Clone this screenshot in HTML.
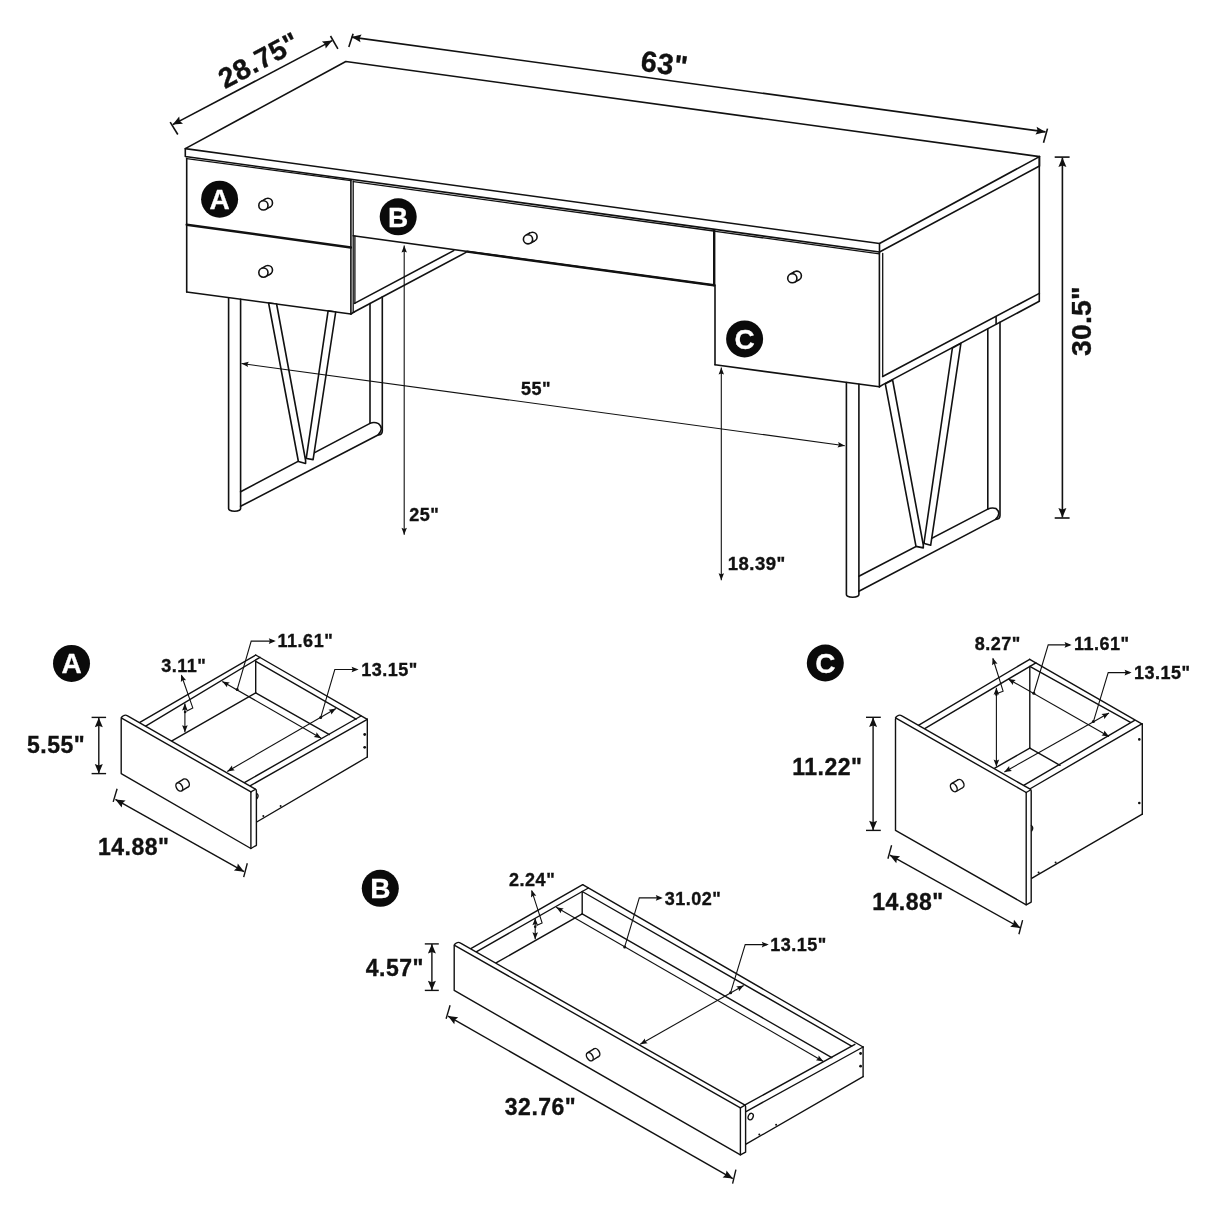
<!DOCTYPE html>
<html><head><meta charset="utf-8"><title>Desk dimensions</title>
<style>
html,body{margin:0;padding:0;background:#fff;}
body{width:1214px;height:1214px;overflow:hidden;}
svg{display:block;will-change:transform;opacity:0.999;}
text{font-family:"Liberation Sans",sans-serif;font-weight:bold;letter-spacing:0.5px;stroke:#111;stroke-width:0.35px;paint-order:stroke;}
.o{stroke:#111;stroke-width:1.6;stroke-linecap:round;stroke-linejoin:round;}
.b{stroke:#111;stroke-width:2.4;stroke-linecap:round;stroke-linejoin:round;}
.p{stroke:#111;stroke-width:1.4;stroke-linecap:round;stroke-linejoin:round;}
.e{stroke:#111;stroke-width:1.4;stroke-linecap:butt;}
.m{stroke:#111;stroke-width:1.3;stroke-linecap:round;stroke-linejoin:round;}
.d{stroke:#111;stroke-width:1.6;stroke-linecap:butt;}
.t{stroke:#111;stroke-width:1.1;stroke-linecap:butt;}
.k{stroke:#111;stroke-width:1.6;}
.k2{stroke:#111;stroke-width:1.45;}
.n{stroke:none;}
</style></head><body>
<svg width="1214" height="1214" viewBox="0 0 1214 1214">
<rect width="1214" height="1214" fill="#fff"/>
<polygon class="o" fill="none" points="185.3,148.6 345.8,61.5 1039.5,156.6 879.5,243.5"/>
<polyline class="o" fill="none" points="185.3,148.6 185.3,156.5 879.5,252.0 1039.5,166.0 1039.5,156.6"/>
<line class="o" x1="879.5" y1="243.5" x2="879.5" y2="252.0"/>
<line class="m" x1="186.7" y1="158.6" x2="350.9" y2="180.6"/>
<line class="m" x1="353.4" y1="181.6" x2="713.7" y2="231.0"/>
<line class="m" x1="715.5" y1="231.3" x2="879.5" y2="253.9"/>
<line class="o" x1="186.7" y1="158.4" x2="186.7" y2="292.0"/>
<line class="b" x1="186.7" y1="224.7" x2="350.9" y2="247.5"/>
<line class="o" x1="186.7" y1="292.0" x2="350.9" y2="314.0"/>
<line class="o" x1="350.9" y1="180.2" x2="350.9" y2="314.0"/>
<line class="m" x1="353.2" y1="181.0" x2="353.2" y2="312.3"/>
<line class="m" x1="354.9" y1="236.0" x2="354.9" y2="303.4"/>
<line class="o" x1="354.5" y1="303.4" x2="453.7" y2="250.6"/>
<line class="o" x1="354.5" y1="311.8" x2="466.0" y2="252.4"/>
<line class="o" x1="350.9" y1="314.0" x2="354.5" y2="311.8"/>
<line class="o" x1="353.2" y1="235.8" x2="713.9" y2="285.3"/>
<line class="b" x1="467.2" y1="251.6" x2="713.9" y2="285.3"/>
<line class="b" x1="714.2" y1="230.3" x2="714.2" y2="285.3"/>
<line class="o" x1="715.0" y1="285.0" x2="715.0" y2="364.8"/>
<line class="o" x1="715.0" y1="364.8" x2="879.4" y2="386.8"/>
<line class="o" x1="879.4" y1="252.0" x2="879.4" y2="386.8"/>
<line class="m" x1="882.7" y1="253.5" x2="882.7" y2="376.5"/>
<line class="o" x1="1039.3" y1="156.6" x2="1039.3" y2="301.3"/>
<line class="o" x1="882.7" y1="376.5" x2="1039.3" y2="293.4"/>
<polyline class="o" fill="none" points="879.4,386.8 883.4,384.4 1039.3,301.3"/>
<line class="o" x1="996.1" y1="316.8" x2="996.1" y2="324.2"/>
<path class="o" fill="none" d="M228.6,297.8 L228.6,508.6 A6,2.6 0 0 0 240.6,508.6 L240.6,299.4"/>
<line class="o" x1="370.0" y1="303.6" x2="370.0" y2="423.2"/>
<path class="o" fill="none" d="M382.3,296.9 L382.3,431.0 Q382.3,434.8 378.0,435.0"/>
<line class="o" x1="240.6" y1="491.8" x2="370.0" y2="423.4"/>
<path class="o" fill="none" d="M240.6,506.3 L378.0,435.0 Q384.5,428.5 378.5,423.6 Q374.0,421.5 370.0,423.4"/>
<polygon class="o" fill="#fff" points="268.6,303.0 298.4,461.5 305.6,463.4 305.6,460.5 276.6,304.0"/>
<polygon class="o" fill="#fff" points="328.1,310.9 306.5,456.7 306.5,458.5 313.1,459.6 335.7,312.0"/>
<path class="o" fill="none" d="M846.4,382.5 L846.4,594.6 A6.2,2.6 0 0 0 858.9,594.6 L858.9,384.2"/>
<line class="o" x1="987.8" y1="329.0" x2="987.8" y2="508.8"/>
<path class="o" fill="none" d="M1000.0,322.3 L1000.0,515.5 Q1000.0,519.2 995.6,519.4"/>
<line class="o" x1="858.9" y1="576.3" x2="987.8" y2="509.1"/>
<path class="o" fill="none" d="M858.9,591.2 L995.6,519.4 Q1001.8,513.0 996.0,508.6 Q992.0,507.2 987.8,509.1"/>
<polygon class="o" fill="#fff" points="885.3,383.8 916.0,546.4 923.3,547.9 923.3,545.0 892.6,380.0"/>
<polygon class="o" fill="#fff" points="952.4,348.0 924.2,541.5 924.2,543.5 930.7,545.2 960.9,343.4"/>
<circle class="k" cx="267.9" cy="202.9" r="4.6" fill="#fff"/>
<polygon class="n" fill="#fff" points="265.6,209.4 270.1,206.9 265.7,198.9 261.2,201.4"/>
<line class="k" x1="265.6" y1="209.4" x2="270.1" y2="206.9"/>
<line class="k" x1="261.2" y1="201.4" x2="265.7" y2="198.9"/>
<circle class="k" cx="263.4" cy="205.4" r="4.6" fill="#fff"/>
<circle class="k" cx="267.9" cy="270.1" r="4.6" fill="#fff"/>
<polygon class="n" fill="#fff" points="265.6,276.6 270.1,274.1 265.7,266.1 261.2,268.6"/>
<line class="k" x1="265.6" y1="276.6" x2="270.1" y2="274.1"/>
<line class="k" x1="261.2" y1="268.6" x2="265.7" y2="266.1"/>
<circle class="k" cx="263.4" cy="272.6" r="4.6" fill="#fff"/>
<circle class="k" cx="532.5" cy="236.8" r="4.6" fill="#fff"/>
<polygon class="n" fill="#fff" points="530.2,243.3 534.7,240.8 530.3,232.8 525.8,235.3"/>
<line class="k" x1="530.2" y1="243.3" x2="534.7" y2="240.8"/>
<line class="k" x1="525.8" y1="235.3" x2="530.3" y2="232.8"/>
<circle class="k" cx="528.0" cy="239.3" r="4.6" fill="#fff"/>
<circle class="k" cx="796.8" cy="275.7" r="4.6" fill="#fff"/>
<polygon class="n" fill="#fff" points="794.5,282.2 799.0,279.7 794.6,271.7 790.1,274.2"/>
<line class="k" x1="794.5" y1="282.2" x2="799.0" y2="279.7"/>
<line class="k" x1="790.1" y1="274.2" x2="794.6" y2="271.7"/>
<circle class="k" cx="792.3" cy="278.2" r="4.6" fill="#fff"/>
<circle cx="219.6" cy="199.2" r="18.5" fill="#0a0a0a"/>
<text x="219.6" y="209.2" font-size="28" text-anchor="middle" fill="#fff" style="letter-spacing:0;stroke:#fff;stroke-width:0.3px">A</text>
<circle cx="398.2" cy="216.8" r="18.5" fill="#0a0a0a"/>
<text x="398.2" y="226.8" font-size="28" text-anchor="middle" fill="#fff" style="letter-spacing:0;stroke:#fff;stroke-width:0.3px">B</text>
<circle cx="744.6" cy="338.9" r="18.5" fill="#0a0a0a"/>
<text x="744.6" y="348.9" font-size="28" text-anchor="middle" fill="#fff" style="letter-spacing:0;stroke:#fff;stroke-width:0.3px">C</text>
<line class="d" x1="172.7" y1="124.6" x2="332.2" y2="40.6"/>
<polygon fill="#111" points="332.2,40.6 325.7,48.6 325.1,44.3 321.9,41.5"/>
<polygon fill="#111" points="172.7,124.6 179.2,116.6 179.8,120.9 183.0,123.7"/>
<line class="d" x1="170.2" y1="122.1" x2="177.8" y2="134.5"/>
<line class="d" x1="330.5" y1="36.0" x2="337.9" y2="48.8"/>
<line class="d" x1="351.6" y1="37.1" x2="1045.5" y2="131.9"/>
<polygon fill="#111" points="1045.5,131.9 1035.5,134.6 1037.6,130.8 1036.6,126.7"/>
<polygon fill="#111" points="351.6,37.1 361.6,34.4 359.5,38.2 360.5,42.3"/>
<line class="d" x1="353.1" y1="33.8" x2="348.8" y2="47.0"/>
<line class="d" x1="1047.5" y1="128.6" x2="1043.5" y2="142.7"/>
<line class="d" x1="1062.4" y1="157.6" x2="1062.4" y2="517.6"/>
<polygon fill="#111" points="1062.4,517.6 1058.4,508.1 1062.4,509.6 1066.4,508.1"/>
<polygon fill="#111" points="1062.4,157.6 1066.4,167.1 1062.4,165.6 1058.4,167.1"/>
<line class="d" x1="1054.7" y1="157.1" x2="1069.6" y2="157.1"/>
<line class="d" x1="1054.7" y1="518.0" x2="1069.6" y2="518.0"/>
<line class="t" x1="241.5" y1="363.5" x2="844.8" y2="445.7"/>
<polygon fill="#111" points="844.8,445.7 837.5,447.4 839.0,444.9 838.2,442.1"/>
<polygon fill="#111" points="241.5,363.5 248.8,361.8 247.3,364.3 248.1,367.1"/>
<line class="t" x1="404.2" y1="245.5" x2="404.2" y2="534.8"/>
<polygon fill="#111" points="404.2,534.8 401.5,527.8 404.2,528.9 406.9,527.8"/>
<polygon fill="#111" points="404.2,245.5 406.9,252.5 404.2,251.4 401.5,252.5"/>
<line class="t" x1="721.3" y1="367.6" x2="721.3" y2="580.2"/>
<polygon fill="#111" points="721.3,580.2 718.6,573.2 721.3,574.3 724.0,573.2"/>
<polygon fill="#111" points="721.3,367.6 724.0,374.6 721.3,373.5 718.6,374.6"/>
<text x="263.4" y="68.8" font-size="28.3" text-anchor="middle" fill="#111" transform="rotate(-28.0 263.4 68.8)">28.75&quot;</text>
<text x="663.2" y="73.6" font-size="29" text-anchor="middle" fill="#111" transform="rotate(7.7 663.2 73.6)">63&quot;</text>
<text x="1090.9" y="321.2" font-size="28.5" text-anchor="middle" fill="#111" transform="rotate(-90 1090.9 321.2)" style="letter-spacing:0.1px">30.5&quot;</text>
<text x="521.0" y="395.4" font-size="18" text-anchor="start" fill="#111">55&quot;</text>
<text x="409.3" y="521.0" font-size="18" text-anchor="start" fill="#111">25&quot;</text>
<text x="727.8" y="570.3" font-size="18.5" text-anchor="start" fill="#111">18.39&quot;</text>
<circle cx="71.5" cy="663.4" r="18.5" fill="#0a0a0a"/>
<text x="71.5" y="673.4" font-size="28" text-anchor="middle" fill="#fff" style="letter-spacing:0;stroke:#fff;stroke-width:0.3px">A</text>
<line class="p" x1="137.7" y1="723.7" x2="255.7" y2="655.0"/>
<line class="p" x1="143.6" y1="727.3" x2="260.0" y2="657.3"/>
<line class="p" x1="255.7" y1="655.0" x2="367.3" y2="719.3"/>
<line class="p" x1="255.8" y1="661.3" x2="356.1" y2="719.2"/>
<line class="p" x1="255.7" y1="661.0" x2="255.7" y2="692.8"/>
<line class="p" x1="170.6" y1="741.6" x2="255.7" y2="692.8"/>
<line class="p" x1="255.7" y1="692.8" x2="329.4" y2="734.6"/>
<line class="p" x1="361.0" y1="716.0" x2="244.4" y2="782.6"/>
<line class="p" x1="367.3" y1="719.3" x2="250.0" y2="785.9"/>
<line class="p" x1="367.3" y1="719.3" x2="367.3" y2="757.0"/>
<line class="p" x1="367.3" y1="757.0" x2="256.7" y2="822.0"/>
<circle cx="364.7" cy="734.5" r="1.4" fill="#111"/>
<circle cx="364.7" cy="747.3" r="1.4" fill="#111"/>
<circle cx="280.6" cy="805.9" r="1.0" fill="#111"/>
<circle cx="263.3" cy="815.9" r="1.0" fill="#111"/>
<path class="p" fill="#fff" d="M121.2,773.6 L121.2,719.0 Q121.2,716.6 123.6,715.6 Q125.6,714.6 127.6,715.9 L255.4,789.2 Q256.4,789.8 256.4,791.0 L256.4,845.3 L250.9,848.5 Z"/>
<line class="p" x1="121.2" y1="717.8" x2="250.9" y2="791.9"/>
<line class="p" x1="250.9" y1="791.9" x2="250.9" y2="848.5"/>
<line class="m" x1="250.9" y1="791.9" x2="255.6" y2="789.3"/>
<path class="m" fill="none" d="M256.8,793.5 Q259.3,795.5 257.0,798.5"/>
<ellipse class="k2" cx="185.9" cy="783.0" rx="2.9" ry="4.5" fill="#fff" transform="rotate(-31.218402764346376 185.9 783.0)"/>
<polygon class="n" fill="#fff" points="181.6,790.8 188.2,786.8 183.6,779.2 177.0,783.2"/>
<line class="k2" x1="181.6" y1="790.8" x2="188.2" y2="786.8"/>
<line class="k2" x1="177.0" y1="783.2" x2="183.6" y2="779.2"/>
<ellipse class="k2" cx="179.3" cy="787.0" rx="2.9" ry="4.5" fill="#fff" transform="rotate(-31.218402764346376 179.3 787.0)"/>
<line class="e" x1="98.8" y1="717.7" x2="98.8" y2="773.4"/>
<polygon fill="#111" points="98.8,773.4 94.8,763.9 98.8,765.4 102.8,763.9"/>
<polygon fill="#111" points="98.8,717.7 102.8,727.2 98.8,725.7 94.8,727.2"/>
<line class="e" x1="91.6" y1="717.4" x2="106.1" y2="717.4"/>
<line class="e" x1="91.6" y1="773.6" x2="106.1" y2="773.6"/>
<line class="e" x1="115.4" y1="799.4" x2="244.1" y2="871.7"/>
<polygon fill="#111" points="244.1,871.7 233.9,870.5 237.1,867.8 237.8,863.6"/>
<polygon fill="#111" points="115.4,799.4 125.6,800.6 122.4,803.3 121.7,807.5"/>
<line class="e" x1="117.1" y1="788.8" x2="113.2" y2="801.9"/>
<line class="e" x1="247.3" y1="863.2" x2="243.7" y2="877.1"/>
<text x="27.0" y="752.6" font-size="23" text-anchor="start" fill="#111">5.55&quot;</text>
<text x="98.0" y="854.8" font-size="23" text-anchor="start" fill="#111">14.88&quot;</text>
<text x="161.2" y="671.6" font-size="18" text-anchor="start" fill="#111">3.11&quot;</text>
<text x="277.6" y="647.4" font-size="18" text-anchor="start" fill="#111">11.61&quot;</text>
<text x="361.2" y="675.8" font-size="18" text-anchor="start" fill="#111">13.15&quot;</text>
<line class="t" x1="184.9" y1="703.5" x2="184.9" y2="732.2"/>
<polygon fill="#111" points="184.9,732.2 182.1,725.2 184.9,726.3 187.7,725.2"/>
<polygon fill="#111" points="184.9,703.5 187.7,710.5 184.9,709.4 182.1,710.5"/>
<polyline class="t" fill="none" points="181.4,675.2 192.8,707.9 186.4,711.2"/>
<polygon fill="#111" points="181.2,674.5 186.1,680.2 183.1,680.1 180.9,682.0"/>
<circle cx="185.1" cy="712.0" r="1.3" fill="#111"/>
<line class="t" x1="222.3" y1="681.4" x2="321.2" y2="738.2"/>
<polygon fill="#111" points="321.2,738.2 313.7,737.1 316.1,735.3 316.5,732.3"/>
<polygon fill="#111" points="222.3,681.4 229.8,682.5 227.4,684.3 227.0,687.3"/>
<polyline class="t" fill="none" points="274.0,641.1 251.2,641.1 237.2,689.3"/>
<polygon fill="#111" points="275.8,641.1 268.8,643.9 269.9,641.1 268.8,638.3"/>
<circle cx="237.2" cy="689.6" r="1.5" fill="#111"/>
<line class="t" x1="336.0" y1="708.6" x2="227.3" y2="771.4"/>
<polygon fill="#111" points="227.3,771.4 232.0,765.5 232.4,768.5 234.8,770.3"/>
<polygon fill="#111" points="336.0,708.6 331.3,714.5 330.9,711.5 328.5,709.7"/>
<polyline class="t" fill="none" points="357.0,669.5 334.8,669.5 320.7,717.7"/>
<polygon fill="#111" points="358.6,669.5 351.6,672.3 352.7,669.5 351.6,666.7"/>
<circle cx="320.7" cy="717.6" r="1.5" fill="#111"/>
<circle cx="825.3" cy="663.0" r="18.5" fill="#0a0a0a"/>
<text x="825.3" y="673.0" font-size="28" text-anchor="middle" fill="#fff" style="letter-spacing:0;stroke:#fff;stroke-width:0.3px">C</text>
<line class="p" x1="916.7" y1="726.4" x2="1029.7" y2="659.3"/>
<line class="p" x1="922.6" y1="729.8" x2="1035.9" y2="662.8"/>
<line class="p" x1="1029.7" y1="659.3" x2="1141.8" y2="723.8"/>
<line class="p" x1="1029.8" y1="666.4" x2="1130.5" y2="722.3"/>
<line class="p" x1="1029.8" y1="666.4" x2="1029.8" y2="748.2"/>
<line class="p" x1="994.4" y1="768.3" x2="1029.8" y2="748.2"/>
<line class="p" x1="1029.8" y1="748.2" x2="1060.0" y2="765.3"/>
<line class="p" x1="1134.6" y1="720.4" x2="1024.1" y2="785.2"/>
<line class="p" x1="1141.8" y1="723.8" x2="1030.6" y2="788.5"/>
<line class="p" x1="1142.3" y1="723.8" x2="1142.3" y2="814.2"/>
<line class="p" x1="1142.3" y1="814.2" x2="1031.6" y2="878.3"/>
<circle cx="1139.3" cy="739.4" r="1.3" fill="#111"/>
<circle cx="1139.3" cy="803.0" r="1.3" fill="#111"/>
<circle cx="1038.6" cy="872.6" r="1.0" fill="#111"/>
<circle cx="1055.6" cy="862.6" r="1.0" fill="#111"/>
<path class="p" fill="#fff" d="M895.5,830.4 L895.5,719.0 Q895.5,716.6 897.9,715.6 Q899.9,714.6 901.9,715.9 L1030.2,789.2 Q1031.2,789.8 1031.2,791.0 L1031.2,902.1 L1026.2,904.8 Z"/>
<line class="p" x1="895.5" y1="717.8" x2="1026.2" y2="792.5"/>
<line class="p" x1="1026.2" y1="792.5" x2="1026.2" y2="904.8"/>
<line class="m" x1="1026.2" y1="792.5" x2="1030.4" y2="790.0"/>
<path class="m" fill="none" d="M1031.4,825.5 Q1034.0,828.0 1031.6,831.0"/>
<ellipse class="k2" cx="960.6" cy="783.6" rx="2.9" ry="4.5" fill="#fff" transform="rotate(-30.46554491945988 960.6 783.6)"/>
<polygon class="n" fill="#fff" points="956.1,791.5 962.9,787.5 958.3,779.7 951.5,783.7"/>
<line class="k2" x1="956.1" y1="791.5" x2="962.9" y2="787.5"/>
<line class="k2" x1="951.5" y1="783.7" x2="958.3" y2="779.7"/>
<ellipse class="k2" cx="953.8" cy="787.6" rx="2.9" ry="4.5" fill="#fff" transform="rotate(-30.46554491945988 953.8 787.6)"/>
<line class="e" x1="873.1" y1="717.5" x2="873.1" y2="830.2"/>
<polygon fill="#111" points="873.1,830.2 869.1,820.7 873.1,822.2 877.1,820.7"/>
<polygon fill="#111" points="873.1,717.5 877.1,727.0 873.1,725.5 869.1,727.0"/>
<line class="e" x1="866.0" y1="717.3" x2="880.8" y2="717.3"/>
<line class="e" x1="866.0" y1="830.4" x2="880.8" y2="830.4"/>
<line class="e" x1="889.9" y1="855.2" x2="1020.4" y2="927.9"/>
<polygon fill="#111" points="1020.4,927.9 1010.2,926.8 1013.4,924.0 1014.0,919.8"/>
<polygon fill="#111" points="889.9,855.2 900.1,856.3 896.9,859.1 896.3,863.3"/>
<line class="e" x1="891.6" y1="845.3" x2="887.9" y2="858.8"/>
<line class="e" x1="1022.6" y1="920.1" x2="1018.9" y2="934.2"/>
<text x="792.3" y="775.3" font-size="23" text-anchor="start" fill="#111">11.22&quot;</text>
<text x="872.2" y="910.3" font-size="23" text-anchor="start" fill="#111">14.88&quot;</text>
<text x="974.7" y="650.0" font-size="18" text-anchor="start" fill="#111">8.27&quot;</text>
<text x="1074.0" y="649.8" font-size="18" text-anchor="start" fill="#111">11.61&quot;</text>
<text x="1134.0" y="678.7" font-size="18" text-anchor="start" fill="#111">13.15&quot;</text>
<line class="t" x1="996.4" y1="687.7" x2="996.4" y2="766.6"/>
<polygon fill="#111" points="996.4,766.6 993.6,759.6 996.4,760.7 999.2,759.6"/>
<polygon fill="#111" points="996.4,687.7 999.2,694.7 996.4,693.6 993.6,694.7"/>
<polyline class="t" fill="none" points="992.9,658.5 1003.1,691.2 997.1,693.4"/>
<polygon fill="#111" points="992.7,657.8 997.5,663.7 994.4,663.4 992.1,665.3"/>
<circle cx="996.4" cy="694.6" r="1.3" fill="#111"/>
<line class="t" x1="1008.2" y1="679.0" x2="1109.0" y2="736.4"/>
<polygon fill="#111" points="1109.0,736.4 1101.5,735.4 1103.9,733.5 1104.3,730.5"/>
<polygon fill="#111" points="1008.2,679.0 1015.7,680.0 1013.3,681.9 1012.9,684.9"/>
<polyline class="t" fill="none" points="1070.0,644.9 1048.2,644.9 1033.8,693.0"/>
<polygon fill="#111" points="1071.6,644.9 1064.6,647.7 1065.7,644.9 1064.6,642.1"/>
<circle cx="1033.8" cy="693.2" r="1.5" fill="#111"/>
<line class="t" x1="1109.0" y1="713.1" x2="1004.4" y2="772.0"/>
<polygon fill="#111" points="1004.4,772.0 1009.1,766.1 1009.5,769.1 1011.9,771.0"/>
<polygon fill="#111" points="1109.0,713.1 1104.3,719.0 1103.9,716.0 1101.5,714.1"/>
<polyline class="t" fill="none" points="1130.0,672.6 1108.2,672.6 1093.4,721.6"/>
<polygon fill="#111" points="1131.6,672.6 1124.6,675.4 1125.7,672.6 1124.6,669.8"/>
<circle cx="1093.4" cy="721.6" r="1.5" fill="#111"/>
<circle cx="380.3" cy="888.3" r="18.5" fill="#0a0a0a"/>
<text x="380.3" y="898.3" font-size="28" text-anchor="middle" fill="#fff" style="letter-spacing:0;stroke:#fff;stroke-width:0.3px">B</text>
<line class="p" x1="470.8" y1="948.6" x2="582.7" y2="884.7"/>
<line class="p" x1="474.5" y1="952.8" x2="588.4" y2="888.0"/>
<line class="p" x1="582.7" y1="884.7" x2="863.1" y2="1047.0"/>
<line class="p" x1="582.2" y1="891.5" x2="851.6" y2="1046.1"/>
<line class="p" x1="582.2" y1="891.5" x2="582.2" y2="913.8"/>
<line class="p" x1="495.6" y1="963.2" x2="582.2" y2="913.8"/>
<line class="p" x1="582.2" y1="913.8" x2="831.8" y2="1057.7"/>
<line class="p" x1="854.9" y1="1044.3" x2="744.6" y2="1105.2"/>
<line class="p" x1="863.1" y1="1047.0" x2="746.0" y2="1111.6"/>
<line class="p" x1="863.1" y1="1047.0" x2="863.1" y2="1076.6"/>
<line class="p" x1="863.1" y1="1076.6" x2="746.0" y2="1144.2"/>
<circle cx="860.6" cy="1053.5" r="1.4" fill="#111"/>
<circle cx="860.6" cy="1066.2" r="1.4" fill="#111"/>
<circle cx="776.1" cy="1124.7" r="1.0" fill="#111"/>
<circle cx="759.3" cy="1134.4" r="1.0" fill="#111"/>
<path class="p" fill="#fff" d="M454.2,990.4 L454.2,946.2 Q454.2,943.8 456.6,942.8 Q458.6,941.8 460.6,943.1 L744.6,1104.8 Q745.6,1105.4 745.6,1106.6 L745.6,1152.2 L740.4,1154.9 Z"/>
<line class="p" x1="454.2" y1="945.1" x2="740.4" y2="1107.9"/>
<line class="p" x1="740.4" y1="1107.9" x2="740.4" y2="1154.9"/>
<line class="m" x1="740.4" y1="1107.9" x2="744.6" y2="1105.4"/>
<ellipse class="m" cx="750.7" cy="1116.6" rx="2.4" ry="3.4" fill="none" transform="rotate(25 750.7 1116.6)"/>
<ellipse class="k2" cx="596.4" cy="1052.6" rx="2.9" ry="4.5" fill="#fff" transform="rotate(-31.84905131905529 596.4 1052.6)"/>
<polygon class="n" fill="#fff" points="592.2,1060.5 598.8,1056.4 594.0,1048.8 587.4,1052.9"/>
<line class="k2" x1="592.2" y1="1060.5" x2="598.8" y2="1056.4"/>
<line class="k2" x1="587.4" y1="1052.9" x2="594.0" y2="1048.8"/>
<ellipse class="k2" cx="589.8" cy="1056.7" rx="2.9" ry="4.5" fill="#fff" transform="rotate(-31.84905131905529 589.8 1056.7)"/>
<line class="e" x1="431.9" y1="944.1" x2="431.9" y2="990.2"/>
<polygon fill="#111" points="431.9,990.2 427.9,980.7 431.9,982.2 435.9,980.7"/>
<polygon fill="#111" points="431.9,944.1 435.9,953.6 431.9,952.1 427.9,953.6"/>
<line class="e" x1="424.8" y1="943.9" x2="438.8" y2="943.9"/>
<line class="e" x1="424.8" y1="990.4" x2="438.8" y2="990.4"/>
<line class="e" x1="448.0" y1="1016.1" x2="732.8" y2="1178.6"/>
<polygon fill="#111" points="732.8,1178.6 722.6,1177.4 725.9,1174.6 726.5,1170.4"/>
<polygon fill="#111" points="448.0,1016.1 458.2,1017.3 454.9,1020.1 454.3,1024.3"/>
<line class="e" x1="450.1" y1="1005.2" x2="446.1" y2="1018.8"/>
<line class="e" x1="735.9" y1="1169.7" x2="732.6" y2="1183.7"/>
<text x="365.8" y="976.0" font-size="23" text-anchor="start" fill="#111">4.57&quot;</text>
<text x="504.8" y="1114.5" font-size="23" text-anchor="start" fill="#111">32.76&quot;</text>
<text x="509.1" y="885.8" font-size="18" text-anchor="start" fill="#111">2.24&quot;</text>
<text x="664.8" y="904.7" font-size="18" text-anchor="start" fill="#111">31.02&quot;</text>
<text x="770.3" y="950.5" font-size="18" text-anchor="start" fill="#111">13.15&quot;</text>
<line class="t" x1="535.2" y1="918.2" x2="535.2" y2="939.3"/>
<polygon fill="#111" points="535.2,939.3 532.4,932.3 535.2,933.4 538.0,932.3"/>
<polygon fill="#111" points="535.2,918.2 538.0,925.2 535.2,924.1 532.4,925.2"/>
<polyline class="t" fill="none" points="531.7,890.7 542.1,922.9 536.5,925.4"/>
<polygon fill="#111" points="531.5,890.0 536.3,895.8 533.3,895.6 531.0,897.5"/>
<circle cx="535.2" cy="926.8" r="1.3" fill="#111"/>
<line class="t" x1="556.2" y1="907.3" x2="823.4" y2="1061.4"/>
<polygon fill="#111" points="823.4,1061.4 815.9,1060.3 818.3,1058.5 818.7,1055.5"/>
<polygon fill="#111" points="556.2,907.3 563.7,908.4 561.3,910.2 560.9,913.2"/>
<polyline class="t" fill="none" points="661.0,897.9 639.3,897.9 624.7,946.9"/>
<polygon fill="#111" points="662.8,897.9 655.8,900.7 656.9,897.9 655.8,895.1"/>
<circle cx="624.7" cy="946.9" r="1.5" fill="#111"/>
<line class="t" x1="743.7" y1="985.4" x2="640.2" y2="1044.3"/>
<polygon fill="#111" points="640.2,1044.3 644.9,1038.4 645.3,1041.4 647.7,1043.3"/>
<polygon fill="#111" points="743.7,985.4 739.0,991.3 738.6,988.3 736.2,986.4"/>
<polyline class="t" fill="none" points="767.0,944.6 745.2,944.6 730.6,992.7"/>
<polygon fill="#111" points="768.8,944.6 761.8,947.4 762.9,944.6 761.8,941.8"/>
<circle cx="730.6" cy="992.7" r="1.5" fill="#111"/>
</svg>
</body></html>
